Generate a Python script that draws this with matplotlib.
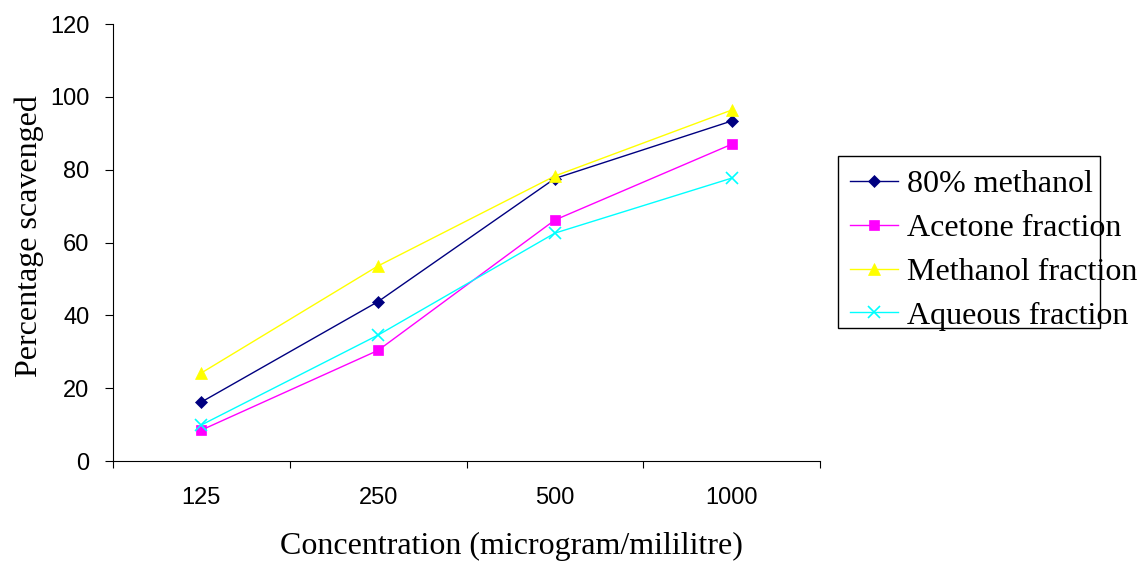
import numpy as np
import matplotlib.pyplot as plt
from matplotlib.patches import Rectangle

# данные
concentrations = ['125', '250', '500', '1000']
methanol_80 = [16.2, 43.8, 77.6, 93.4]
acetone = [8.5, 30.4, 66.2, 87.0]
methanol_frac = [24.2, 53.6, 78.3, 96.4]
aqueous = [9.9, 34.6, 62.6, 77.7]

series = [
    ('80% methanol', methanol_80, '#000080', 'D', 6.5),
    ('Acetone fraction', acetone, '#FF00FF', 's', 7),
    ('Methanol fraction', methanol_frac, '#FFFF00', '^', 9),
    ('Aqueous fraction', aqueous, '#00FFFF', 'x', 9),
]

fig = plt.figure(figsize=(11.37, 5.62), dpi=100)
ax = fig.add_axes([0.0994, 0.1797, 0.6218, 0.7773])

x = np.arange(len(concentrations))
for name, vals, col, mk, ms in series:
    ax.plot(x, vals, color=col, marker=mk, markersize=ms, linewidth=1,
            markeredgewidth=1.2 if mk == 'x' else 0.5, label=name)

ax.set_xlim(-0.5, len(concentrations) - 0.5)
ax.set_ylim(0, 120)
ax.set_yticks(np.arange(0, 121, 20))

# метки категорий между засечками, как в Excel
ax.set_xticks(np.arange(-0.5, len(concentrations)), labels=[])
ax.set_xticks(x, labels=concentrations, minor=True)
ax.tick_params(axis='x', which='minor', length=0, pad=19)
ax.tick_params(axis='x', which='major', length=5, direction='out')
ax.tick_params(axis='y', length=6, direction='out', pad=11)
for lab in ax.get_xticklabels(minor=True) + ax.get_yticklabels():
    lab.set_family('Liberation Sans')
    lab.set_fontsize(17)

for s in ['top', 'right']:
    ax.spines[s].set_visible(False)

ax.set_ylabel('Percentage scavenged', family='Liberation Serif', fontsize=23)
ax.yaxis.set_label_coords(-0.098, 0.515)
ax.set_xlabel('Concentration (microgram/mililitre)', family='Liberation Serif', fontsize=23)
ax.xaxis.set_label_coords(0.563, -0.163)

leg = fig.legend(loc='upper left', bbox_to_anchor=(0.7476, 0.6975), frameon=False,
                 prop={'family': 'Liberation Serif', 'size': 23},
                 borderpad=0, borderaxespad=0,
                 handlelength=1.5, handletextpad=0.28, labelspacing=0.45)

fig.patches.append(Rectangle((838 / 1137, 1 - 328 / 562), 262 / 1137, 172 / 562,
                             transform=fig.transFigure, fill=False,
                             edgecolor='black', linewidth=1))

fig.savefig('out.png', dpi=100)
